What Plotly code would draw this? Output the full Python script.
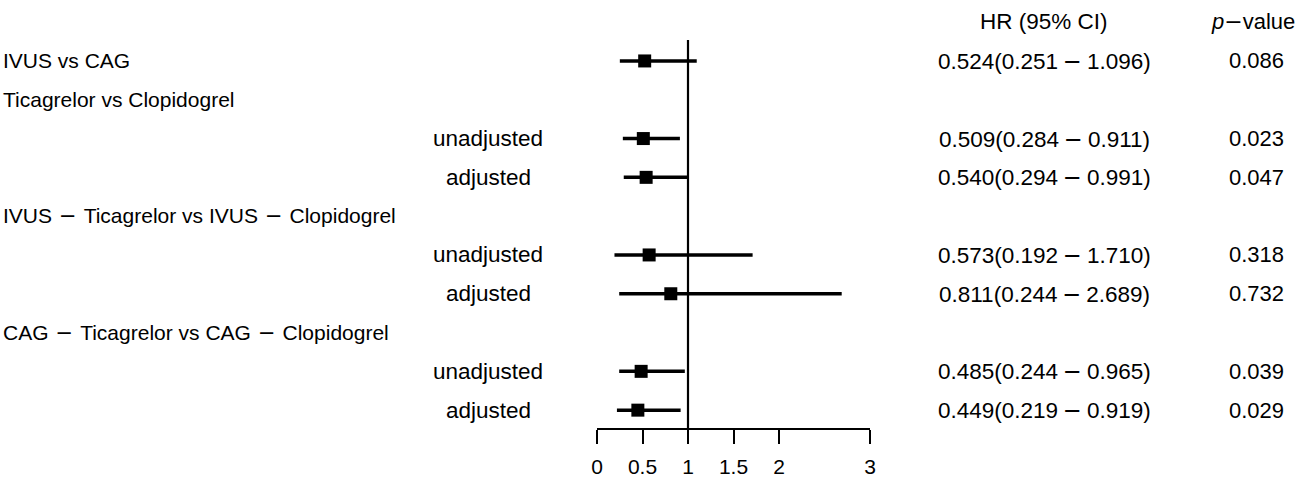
import plotly.graph_objects as go

labels = ["IVUS vs CAG", "Ticagrelor vs Clopidogrel", "unadjusted", "adjusted",
          "IVUS\u2212Ticagrelor vs IVUS\u2212Clopidogrel", "unadjusted", "adjusted",
          "CAG\u2212Ticagrelor vs CAG\u2212Clopidogrel", "unadjusted", "adjusted"]
is_sub = [False, False, True, True, False, True, True, False, True, True]
hr = [0.524, None, 0.509, 0.540, None, 0.573, 0.811, None, 0.485, 0.449]
lower = [0.251, None, 0.284, 0.294, None, 0.192, 0.244, None, 0.244, 0.219]
upper = [1.096, None, 0.911, 0.991, None, 1.710, 2.689, None, 0.965, 0.919]
pvals = ["0.086", "", "0.023", "0.047", "", "0.318", "0.732", "", "0.039", "0.029"]
xticks = [0, 0.5, 1, 1.5, 2, 3]

FONT = "Liberation Sans, Arial, sans-serif"
FS = 21
L, R = 597, 870          # plot area pixel extents
TOP, BOT = 40, 428
W, H = 1296, 478

def px(p):
    return (p - L) / (R - L)

def py(p):
    return (BOT - p) / (BOT - TOP)

def wide_minus(s, gap):
    # the original draws a wider minus sign; emulate with a wider glyph + spacing
    parts = s.split("\u2212")
    out = ""
    for k, part in enumerate(parts):
        if k < len(parts) - 1:
            out += part[:-1] + '<span style="letter-spacing:%dpx">%s</span>' % (gap, part[-1])
            out += ('<span style="font-family:\'DejaVu Sans\';letter-spacing:%dpx">'
                    '\u2212</span>') % gap
        else:
            out += part
    return out

rows = list(range(len(labels)))
yv = [-i for i in rows]

xs, ys, ep, em = [], [], [], []
for i in rows:
    if hr[i] is not None:
        xs.append(hr[i]); ys.append(yv[i])
        ep.append(upper[i] - hr[i]); em.append(hr[i] - lower[i])

fig = go.Figure()
fig.add_trace(go.Scatter(
    x=xs, y=ys, mode="markers",
    marker=dict(symbol="square", size=13, color="black"),
    error_x=dict(type="data", symmetric=False, array=ep, arrayminus=em,
                 thickness=3.5, width=0, color="black"),
    showlegend=False, hoverinfo="skip"))

fig.add_shape(type="line", xref="x", yref="paper", x0=1, x1=1, y0=0, y1=1,
              line=dict(color="black", width=2.2))

ann = []
for i in rows:
    if is_sub[i]:
        ann.append(dict(x=px(488), y=yv[i], xref="paper", yref="y", text=labels[i],
                        font=dict(size=22.5),
                        xanchor="center", yanchor="middle", showarrow=False))
    else:
        ann.append(dict(x=px(1), y=yv[i], xref="paper", yref="y",
                        text=wide_minus(labels[i], 7),
                        xanchor="left", yanchor="middle", showarrow=False))
    if hr[i] is not None:
        txt = "%.3f(%.3f\u2212%.3f)" % (hr[i], lower[i], upper[i])
        ann.append(dict(x=px(1044), y=yv[i], xref="paper", yref="y",
                        text=wide_minus(txt, 5), font=dict(size=22.5),
                        xanchor="center", yanchor="middle", showarrow=False))
        ann.append(dict(x=px(1256), y=yv[i], xref="paper", yref="y", text=pvals[i],
                        font=dict(size=22),
                        xanchor="center", yanchor="middle", showarrow=False))
ann.append(dict(x=px(1044), y=py(22), xref="paper", yref="paper", text="HR (95% CI)",
                font=dict(size=22.5),
                xanchor="center", yanchor="middle", showarrow=False))
ann.append(dict(x=px(1297), y=py(22), xref="paper", yref="paper",
                text=("<i>p</i><span style=\"font-family:'DejaVu Sans'\">\u2212</span>value"),
                font=dict(size=22),
                xanchor="right", yanchor="middle", showarrow=False))

fig.update_layout(
    width=W, height=H,
    margin=dict(l=L, r=W - R, t=TOP, b=H - BOT, pad=0, autoexpand=False),
    plot_bgcolor="white", paper_bgcolor="white",
    font=dict(family=FONT, size=FS, color="black"),
    annotations=ann,
    xaxis=dict(range=[0, 3], tickvals=xticks, ticktext=[str(t) for t in xticks],
               showgrid=False, zeroline=False, showline=True, linecolor="black",
               linewidth=2, ticks="outside", ticklen=14, tickwidth=2, tickcolor="black",
               ticklabelstandoff=5, automargin=False,
               tickfont=dict(family=FONT, size=FS)),
    yaxis=dict(range=[-9.46, 0.54], visible=False, showgrid=False, zeroline=False,
               automargin=False),
)
fig.write_html("out.html", config={"displayModeBar": False},
               post_script="document.body.style.margin='0';")
